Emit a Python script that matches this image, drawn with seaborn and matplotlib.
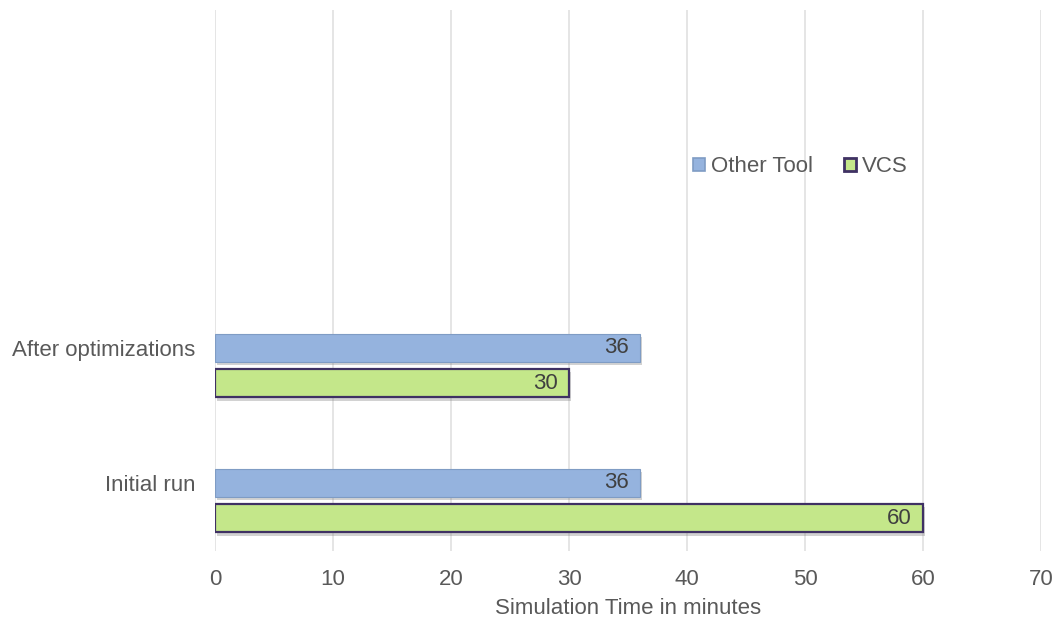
import matplotlib
matplotlib.use("Agg")
import matplotlib.pyplot as plt
import matplotlib.patheffects as pe
import pandas as pd
import seaborn as sns

# Simulation time (minutes) per run stage and tool
categories = ["After optimizations", "Initial run"]
tools = ["Other Tool", "VCS"]
other_tool_minutes = [36, 36]
vcs_minutes = [30, 60]
x_ticks = [0, 10, 20, 30, 40, 50, 60, 70]
x_label = "Simulation Time in minutes"

df = pd.DataFrame({
    "stage": categories * 2,
    "tool": [tools[0]] * len(categories) + [tools[1]] * len(categories),
    "minutes": other_tool_minutes + vcs_minutes,
})

sns.set_theme(style="white")
plt.rcParams["font.family"] = ["Liberation Sans", "DejaVu Sans"]

TEXT = "#595959"
fill_colors = {"Other Tool": "#95B3DE", "VCS": "#C4E78A"}
edge_colors = {"Other Tool": "#7F9CC4", "VCS": "#3F3163"}
edge_widths = {"Other Tool": 0.8, "VCS": 1.6}

fig = plt.figure(figsize=(10.57, 6.2), dpi=100)
ax = fig.add_axes([0.2034, 1 - 551 / 620, 0.9849 - 0.2034, (551 - 10) / 620])

sns.barplot(
    data=df, y="stage", x="minutes", hue="tool", order=categories,
    hue_order=tools, palette=fill_colors, orient="h", errorbar=None,
    width=0.52, gap=0.2, saturation=1, ax=ax, legend=False,
)

shadow = [pe.SimplePatchShadow(offset=(1.5, -2.5), shadow_rgbFace="#7f7f7f", alpha=0.35),
          pe.Normal()]
for tool, container in zip(tools, ax.containers):
    for patch in container:
        patch.set_edgecolor(edge_colors[tool])
        patch.set_linewidth(edge_widths[tool])
        patch.set_path_effects(shadow)
        value = patch.get_width()
        yc = patch.get_y() + patch.get_height() / 2
        ax.annotate(f"{value:g}", xy=(value, yc), xytext=(-8, 0),
                    textcoords="offset points", ha="right", va="center",
                    fontsize=16, color="#404040")

# Category labels sit level with the first bar of each group
first = ax.containers[0]
ax.set_yticks([p.get_y() + p.get_height() / 2 for p in first], categories)

ax.set_xlim(0, 70)
ax.set_ylim(1.374, -2.633)
ax.set_xticks(x_ticks)
ax.set_xlabel(x_label, fontsize=16, color=TEXT, labelpad=6)
ax.set_ylabel("")
ax.tick_params(axis="x", length=0, pad=13, labelsize=16, labelcolor=TEXT)
ax.tick_params(axis="y", length=0, pad=14, labelsize=16, labelcolor=TEXT)

ax.xaxis.grid(True, color="#E0E0E0", linewidth=1.2)
ax.yaxis.grid(False)
ax.set_axisbelow(True)
for s in ax.spines.values():
    s.set_visible(False)

handles = [
    plt.Rectangle((0, 0), 1, 1, facecolor=fill_colors[t], edgecolor=edge_colors[t],
                  linewidth=edge_widths[t] + 0.4)
    for t in tools
]
fig.legend(handles, tools, loc="center", bbox_to_anchor=(0.757, 1 - 167 / 620),
           ncol=2, frameon=False, fontsize=16, labelcolor=TEXT,
           handlelength=0.55, handleheight=0.55, handletextpad=0.25,
           columnspacing=1.4)

fig.savefig("out.png", dpi=100)
